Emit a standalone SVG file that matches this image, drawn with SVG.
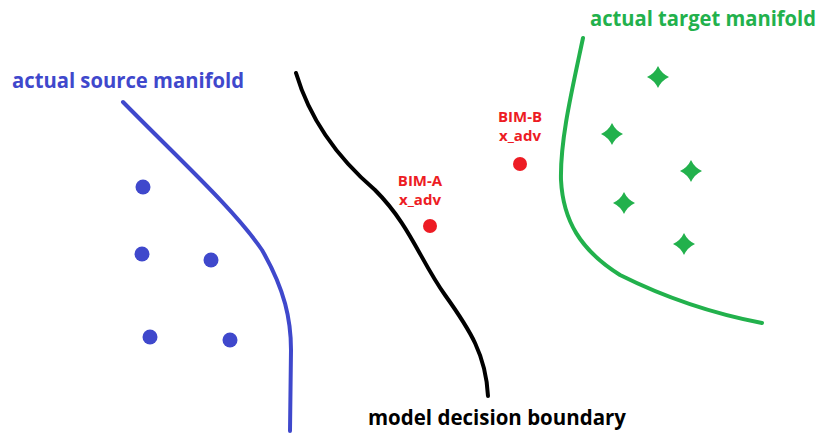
<svg xmlns="http://www.w3.org/2000/svg" width="820" height="436" viewBox="0 0 820 436">
<defs>
<style>
.lbl{font-family:"Open Sans","Liberation Sans",sans-serif;font-weight:bold}
.big{font-size:20.5px}
.sm{font-size:15px;fill:#ed1c24;text-anchor:middle}
.curve{fill:none;stroke-width:4;stroke-linecap:round}
.bdot{fill:#3f48cc}
.rdot{fill:#ed1c24}
.star{fill:#22b14c}
</style>
<path id="st" d="M0,-11 Q3.5,-3.5 11,0 Q3.5,3.5 0,11 Q-3.5,3.5 -11,0 Q-3.5,-3.5 0,-11Z"/>
</defs>
<rect width="820" height="436" fill="#fff"/>
<g id="connectors">
<path id="source-manifold" class="curve" stroke="#3f48cc" d="M123,102 C180,160 235,210 262,250 C285,290 291,320 291,350 L290,431"/>
<path id="decision-boundary" class="curve" stroke="#000" d="M296,73 C310,120 340,160 375,190 C410,225 420,260 445,295 C470,330 486,355 488,396"/>
<path id="target-manifold" class="curve" stroke="#22b14c" d="M583,38 C572,90 560,140 561,180 C563,220 580,250 620,275 C670,300 720,315 762,323"/>
</g>
<g id="source-label"><text class="lbl big" x="12" y="88" fill="#3f48cc" textLength="232" lengthAdjust="spacingAndGlyphs">actual source manifold</text></g>
<g id="target-label"><text class="lbl big" x="590" y="26" fill="#22b14c" textLength="226" lengthAdjust="spacingAndGlyphs">actual target manifold</text></g>
<g id="boundary-label"><text class="lbl big" x="368" y="425" fill="#000" textLength="258" lengthAdjust="spacingAndGlyphs">model decision boundary</text></g>
<g id="source-points">
<circle class="bdot" cx="143" cy="187" r="7.5"/>
<circle class="bdot" cx="142" cy="254" r="7.5"/>
<circle class="bdot" cx="211" cy="260" r="7.5"/>
<circle class="bdot" cx="150" cy="337" r="7.5"/>
<circle class="bdot" cx="230" cy="340" r="7.5"/>
</g>
<g id="bim-a">
<text class="lbl sm" x="420" y="186">BIM-A</text>
<text class="lbl sm" x="420" y="205">x_adv</text>
<circle class="rdot" cx="430" cy="226" r="7"/>
</g>
<g id="bim-b">
<text class="lbl sm" x="520" y="122">BIM-B</text>
<text class="lbl sm" x="520" y="141">x_adv</text>
<circle class="rdot" cx="520" cy="164" r="7"/>
</g>
<g id="target-points">
<use href="#st" class="star" x="658" y="77"/>
<use href="#st" class="star" x="612" y="134"/>
<use href="#st" class="star" x="691" y="171"/>
<use href="#st" class="star" x="624" y="203"/>
<use href="#st" class="star" x="684" y="244"/>
</g>
</svg>
